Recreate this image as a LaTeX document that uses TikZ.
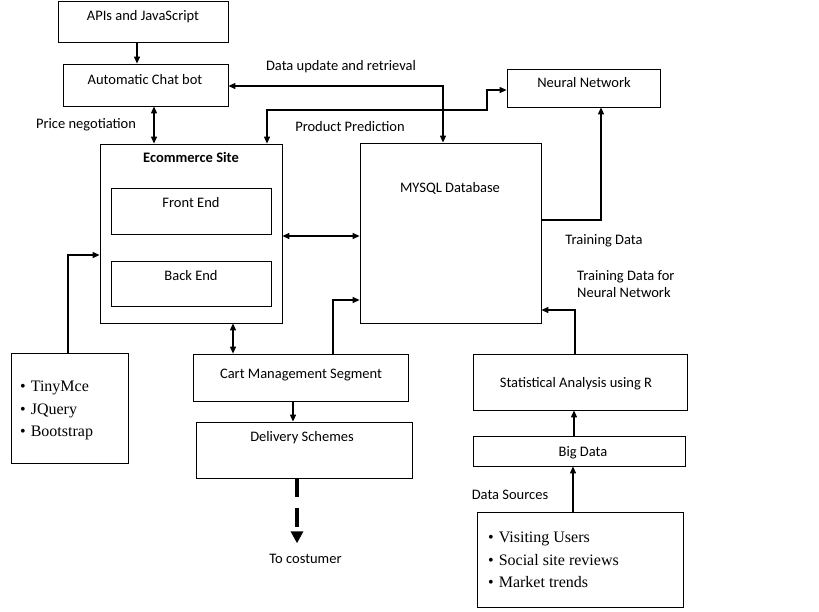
\documentclass[tikz,border=0pt]{standalone}
\usepackage{fontspec}
\setmainfont{Carlito}
\newfontfamily\tms{Liberation Serif}
\usetikzlibrary{arrows.meta}
\begin{document}
\begin{tikzpicture}[x=1pt,y=-1pt,
  box/.style={draw, line width=0.8pt, inner sep=0pt},
  lbl/.style={inner sep=0pt, font=\fontsize{14.5}{17}\selectfont, text height=1.05em, text depth=0.14em},
  blist/.style={inner sep=0pt, anchor=west, font=\tms\fontsize{16}{19}\selectfont, text height=1.0em, text depth=0.125em},
  con/.style={line width=1.1pt},
  tip/.style={-{Triangle[length=7pt,width=6pt]}},
  dtip/.style={{Triangle[length=7pt,width=6pt]}-{Triangle[length=7pt,width=6pt]}}
]
\useasboundingbox (0,0) rectangle (819,611);
% boxes
\node[box, minimum width=170pt, minimum height=41pt] (api) at (143,21.5) {};
\node[box, minimum width=165pt, minimum height=42pt] (chat) at (145.5,85) {};
\node[box, minimum width=182pt, minimum height=179pt] (ecom) at (191,233.5) {};
\node[box, minimum width=160pt, minimum height=46pt] (front) at (191,211) {};
\node[box, minimum width=160pt, minimum height=45pt] (back) at (191,283.5) {};
\node[box, minimum width=181pt, minimum height=180pt] (db) at (450.5,233) {};
\node[box, minimum width=153pt, minimum height=38pt] (nn) at (583.5,88) {};
\node[box, minimum width=117pt, minimum height=110pt] (tools) at (69.5,408) {};
\node[box, minimum width=215pt, minimum height=47pt] (cart) at (300.5,377.5) {};
\node[box, minimum width=216pt, minimum height=56pt] (deliv) at (304,450) {};
\node[box, minimum width=214pt, minimum height=56pt] (stats) at (580,382) {};
\node[box, minimum width=212pt, minimum height=30pt] (big) at (579,451) {};
\node[box, minimum width=206pt, minimum height=95pt] (src) at (580,559.5) {};
% box texts
\node[lbl] (tapi) at (143,16) {APIs and JavaScript};
\node[lbl] (tchat) at (145,80) {Automatic Chat bot};
\node[lbl] (tnn) at (584,83) {Neural Network};
\node[lbl, font=\bfseries\fontsize{14.5}{17}\selectfont] (tecom) at (191,158) {Ecommerce Site};
\node[lbl] (tfront) at (191,203) {Front End};
\node[lbl] (tback) at (191,276) {Back End};
\node[lbl] (tdb) at (450,188) {MYSQL Database};
\node[lbl] (tcart) at (301,374) {Cart Management Segment};
\node[lbl] (tdeliv) at (302,437) {Delivery Schemes};
\node[lbl] (tstats) at (576,383) {Statistical Analysis using R};
\node[lbl] (tbig) at (583,452) {Big Data};
% lists
\node[blist] (l1) at (20,387) {•\hspace{5pt}TinyMce};
\node[blist] (l2) at (20,410) {•\hspace{5pt}JQuery};
\node[blist] (l3) at (20,432) {•\hspace{5pt}Bootstrap};
\node[blist] (r1) at (488,538) {•\hspace{5pt}Visiting Users};
\node[blist] (r2) at (488,561) {•\hspace{5pt}Social site reviews};
\node[blist] (r3) at (488,583) {•\hspace{5pt}Market trends};
% free labels
\node[lbl] (ldata) at (341,66) {Data update and retrieval};
\node[lbl] (lprod) at (350,127) {Product Prediction};
\node[lbl] (lprice) at (86,124) {Price negotiation};
\node[lbl] (ltrain) at (604,240) {Training Data};
\node[lbl, anchor=west, align=left, text height=, text depth=] (ltrainnn) at (577,284.5) {Training Data for\\Neural Network};
\node[lbl] (lsrc) at (510,495) {Data Sources};
\node[lbl] (tc) at (305.5,559) {To costumer};
% connectors
\draw[con, tip] (api.south -| 137,0) -- (chat.north -| 137,0);
\draw[con, dtip] (chat.south -| 154,0) -- (ecom.north -| 154,0);
\draw[con, dtip] (chat.east |- 0,86) -| (db.north -| 443,0);
\draw[con, dtip] (ecom.north -| 267,0) |- (487,110) |- (nn.west |- 0,90);
\draw[con, dtip] (ecom.east |- 0,236) -- (db.west |- 0,236);
\draw[con, tip] (db.east |- 0,220) -| (nn.south -| 601,0);
\draw[con, tip] (tools.north -| 68,0) |- (ecom.west |- 0,255);
\draw[con, dtip] (ecom.south -| 233,0) -- (cart.north -| 233,0);
\draw[con, tip] (cart.north -| 333,0) |- (db.west |- 0,300);
\draw[con, tip] (cart.south -| 293,0) -- (deliv.north -| 293,0);
\draw[line width=4.5pt, dash pattern=on 19pt off 11pt, shorten >=9.5pt, -{Triangle[length=12pt,width=12pt]}] (deliv.south -| 297,0) -- (tc.north -| 297,0);
\draw[con, tip] (stats.north -| 575,0) |- (db.east |- 0,310);
\draw[con, tip] (big.north -| 574,0) -- (stats.south -| 574,0);
\draw[con, tip] (src.north -| 573,0) -- (big.south -| 573,0);
\end{tikzpicture}
\end{document}
